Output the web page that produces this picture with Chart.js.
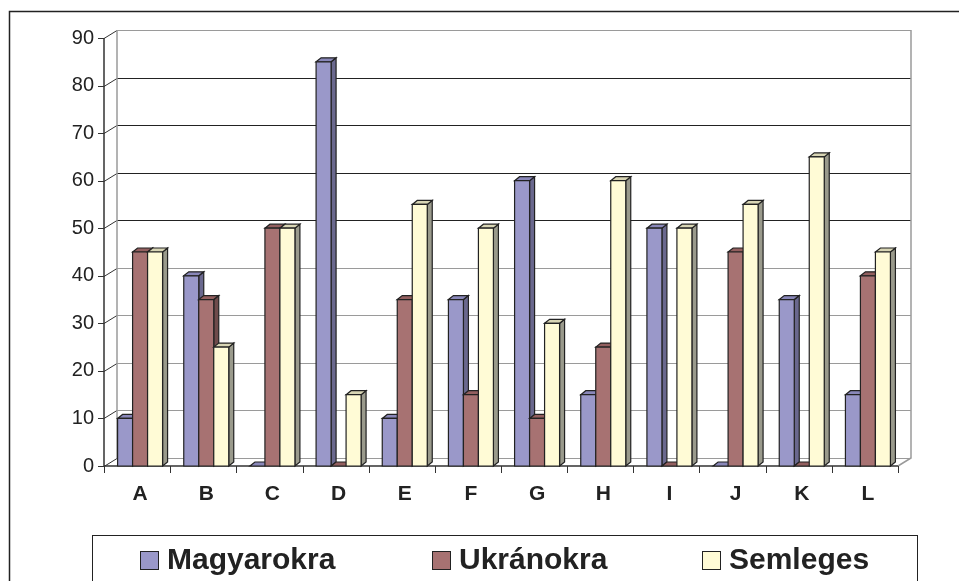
<!DOCTYPE html>
<html>
<head>
<meta charset="utf-8">
<script src="https://cdn.jsdelivr.net/npm/chart.js"></script>
<style>
  html, body { margin: 0; padding: 0; background: #fff; }
  #wrap { width: 959px; height: 581px; position: relative; }
</style>
</head>
<body>
<div id="wrap"><canvas id="chart"></canvas></div>
<script>
// data
const categories = ['A', 'B', 'C', 'D', 'E', 'F', 'G', 'H', 'I', 'J', 'K', 'L'];
const magyarokra = [10, 40, 0, 85, 10, 35, 60, 15, 50, 0, 35, 15];
const ukranokra = [45, 35, 50, 0, 35, 15, 10, 25, 0, 45, 0, 40];
const semleges = [45, 25, 50, 15, 55, 50, 30, 60, 50, 55, 65, 45];
const seriesNames = ['Magyarokra', 'Ukránokra', 'Semleges'];
const yMax = 90;
const yStep = 10;

// colours: front, top, side
const faces = [
    ['#9a98c9', '#8987b9', '#6a688e'],
    ['#a77272', '#935f5f', '#6f4b4b'],
    ['#fffbd6', '#d8d5b4', '#9a9a8c']
];

const DX = 5, DY = -4;      // depth of a bar
const WX = 13, WY = -8;     // depth of the walls
const SHIFT = 3;            // front axis sits a bit left of the bars

function poly(ctx, pts, fill) {
    ctx.beginPath();
    ctx.moveTo(pts[0][0], pts[0][1]);
    for (let i = 1; i < pts.length; i++) ctx.lineTo(pts[i][0], pts[i][1]);
    ctx.closePath();
    ctx.fillStyle = fill;
    ctx.fill();
    ctx.stroke();
}

const chart3d = {
    id: 'chart3d',
    beforeDatasetsDraw(chart) {
        const ctx = chart.ctx;
        const area = chart.chartArea;
        const y = chart.scales.y;
        const x = chart.scales.x;
        const ax = area.left - SHIFT;
        const axR = area.right - SHIFT;
        const y0 = y.getPixelForValue(0);
        const yTop = y.getPixelForValue(yMax);

        ctx.save();
        ctx.lineWidth = 1;

        // back wall grid lines
        for (let v = 0; v <= yMax; v += yStep) {
            const py = Math.round(y.getPixelForValue(v)) + 0.5;
            ctx.strokeStyle = (v >= 50 && v < yMax) ? '#222' : '#9a9a9a';
            ctx.beginPath();
            ctx.moveTo(ax + WX, py + WY);
            ctx.lineTo(axR + WX, py + WY);
            ctx.stroke();
            // diagonal on the side wall and tick mark
            ctx.strokeStyle = '#333';
            ctx.beginPath();
            ctx.moveTo(ax - 6, py);
            ctx.lineTo(ax, py);
            ctx.lineTo(ax + WX, py + WY);
            ctx.stroke();
        }

        // wall edges
        ctx.strokeStyle = '#9a9a9a';
        ctx.lineWidth = 1.5;
        ctx.beginPath();
        ctx.moveTo(ax + WX, y0 + WY);
        ctx.lineTo(ax + WX, yTop + WY);
        ctx.moveTo(axR + WX, yTop + WY);
        ctx.lineTo(axR + WX, y0 + WY);
        ctx.lineTo(axR, y0);
        ctx.stroke();

        // front axes
        ctx.strokeStyle = '#333';
        ctx.beginPath();
        ctx.moveTo(ax, yTop);
        ctx.lineTo(ax, y0);
        ctx.lineTo(axR, y0);
        ctx.stroke();
        ctx.lineWidth = 1;
        const half = (x.getPixelForValue(1) - x.getPixelForValue(0)) / 2;
        ctx.beginPath();
        for (let i = 0; i <= categories.length; i++) {
            const px = Math.round(x.getPixelForValue(i) - half - SHIFT) + 0.5;
            ctx.moveTo(px, y0);
            ctx.lineTo(px, y0 + 7);
        }
        ctx.stroke();

        // bars, series after series so the next one hides the previous side
        ctx.strokeStyle = '#222';
        ctx.lineWidth = 1.2;
        ctx.lineJoin = 'miter';
        chart.data.datasets.forEach((ds, i) => {
            const meta = chart.getDatasetMeta(i);
            const [front, top, side] = faces[i];
            meta.data.forEach(el => {
                const x0 = el.x - el.width / 2;
                const x1 = el.x + el.width / 2;
                const t = el.y;
                const b = el.base;
                if (b - t > 0.5) {
                    poly(ctx, [[x1, b], [x1 + DX, b + DY], [x1 + DX, t + DY], [x1, t]], side);
                }
                poly(ctx, [[x0, t], [x0 + DX, t + DY], [x1 + DX, t + DY], [x1, t]], top);
                if (b - t > 0.5) {
                    poly(ctx, [[x0, t], [x1, t], [x1, b], [x0, b]], front);
                }
            });
        });
        ctx.restore();
        return false;
    },
    afterDraw(chart) {
        const ctx = chart.ctx;
        ctx.save();
        // outer frame
        ctx.strokeStyle = '#222';
        ctx.lineWidth = 1.5;
        ctx.beginPath();
        ctx.moveTo(9.5, 590);
        ctx.lineTo(9.5, 11.5);
        ctx.lineTo(965, 11.5);
        ctx.stroke();

        // legend
        ctx.lineWidth = 1;
        ctx.strokeRect(92.5, 535.5, 825, 80);
        const boxX = [140, 432, 702];
        ctx.font = 'bold 30px "Liberation Sans", Arial, sans-serif';
        ctx.textBaseline = 'alphabetic';
        chart.data.datasets.forEach((ds, i) => {
            ctx.fillStyle = faces[i][0];
            ctx.fillRect(boxX[i] + 0.5, 551.5, 18, 18);
            ctx.strokeStyle = '#222';
            ctx.strokeRect(boxX[i] + 0.5, 551.5, 18, 18);
            ctx.fillStyle = '#222';
            ctx.fillText(ds.label, boxX[i] + 27, 569);
        });
        ctx.restore();
    }
};

new Chart(document.getElementById('chart'), {
    type: 'bar',
    data: {
        labels: categories,
        datasets: [
            { label: seriesNames[0], data: magyarokra, backgroundColor: faces[0][0] },
            { label: seriesNames[1], data: ukranokra, backgroundColor: faces[1][0] },
            { label: seriesNames[2], data: semleges, backgroundColor: faces[2][0] }
        ]
    },
    options: {
        responsive: true,
        maintainAspectRatio: false,
        animation: false,
        layout: { padding: { top: 38, right: 58, left: 0, bottom: 0 } },
        datasets: { bar: { categoryPercentage: 0.68, barPercentage: 1 } },
        plugins: {
            legend: { display: false },
            tooltip: { enabled: false }
        },
        scales: {
            x: {
                grid: { display: false, drawTicks: false },
                border: { display: false },
                ticks: {
                    padding: 16,
                    color: '#222',
                    font: { family: '"Liberation Sans", Arial, sans-serif', size: 21, weight: 'bold' }
                },
                afterFit(scale) { scale.height = 115; }
            },
            y: {
                min: 0,
                max: yMax,
                grid: { display: false, drawTicks: false },
                border: { display: false },
                ticks: {
                    stepSize: yStep,
                    padding: 13,
                    color: '#222',
                    font: { family: '"Liberation Sans", Arial, sans-serif', size: 20 }
                },
                afterFit(scale) { scale.width = 107; }
            }
        }
    },
    plugins: [chart3d]
});
</script>
</body>
</html>
